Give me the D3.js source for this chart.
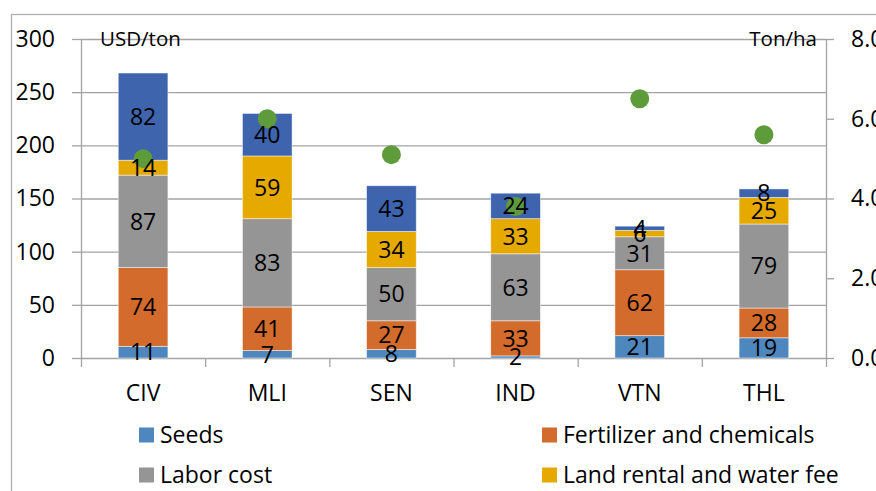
<!DOCTYPE html>
<html>
<head>
<meta charset="utf-8">
<script src="https://cdn.jsdelivr.net/npm/d3@7"></script>
<style>
  html, body { margin:0; padding:0; background:#fff; overflow:hidden; }
  svg { display:block; font-family:"Open Sans", sans-serif; }
</style>
</head>
<body>
<div class="chart-container"></div>
<script>
// data
const countries = ['CIV','MLI','SEN','IND','VTN','THL'];
const seeds = [11,7,8,2,21,19];
const fertilizer = [74,41,27,33,62,28];
const labor = [87,83,50,63,31,79];
const landRental = [14,59,34,33,6,25];
const otherCosts = [82,40,43,24,4,8];
const yieldTonHa = [5.0,6.0,5.1,3.8,6.5,5.6];
const seriesNames = ['Seeds','Fertilizer and chemicals','Labor cost','Land rental and water fee','Other costs'];
const leftTicks = [0,50,100,150,200,250,300];
const rightTicks = [0,2,4,6,8];

const colors = ['#4E86BE','#D26B2B','#959595','#E5A900','#3D64AD'];
const dotColor = '#5E9B3B';
const lineColor = '#A3A3A3';
const fontSize = '23px';

const keys = ['seeds','fertilizer','labor','landRental','otherCosts'];
const table = countries.map((c,i)=>({
    country:c,
    seeds:seeds[i],
    fertilizer:fertilizer[i],
    labor:labor[i],
    landRental:landRental[i],
    otherCosts:otherCosts[i],
    yield:yieldTonHa[i]
}));

const svg_width = 876;
const svg_height = 491;
const plot = {left:81, right:826, top:39, bottom:358};

const svg = d3.select('.chart-container').append('svg')
    .attr('width',svg_width).attr('height',svg_height);

// outer chart border (runs off the picture on the right and bottom)
svg.append('rect')
    .attr('x',11.5).attr('y',14.5).attr('width',1000).attr('height',600)
    .attr('fill','none').attr('stroke','#B0B0B0').attr('stroke-width',1.3);

const xScale = d3.scaleBand().domain(countries)
    .range([plot.left, plot.right]).paddingInner(0.6).paddingOuter(0.3);
const yLeft = d3.scaleLinear([0,300],[plot.bottom, plot.top]);
const yRight = d3.scaleLinear([0,8],[plot.bottom, plot.top]);

//gridlines
svg.append('g').attr('class','grid').selectAll('line')
    .data(leftTicks.filter(d=>d>0)).join('line')
    .attr('x1',plot.left).attr('x2',plot.right)
    .attr('y1',d=>yLeft(d)+0.5).attr('y2',d=>yLeft(d)+0.5)
    .attr('stroke',lineColor).attr('stroke-width',1.3);

//left axis
const leftAxis = svg.append('g').attr('transform',`translate(${plot.left},0)`)
    .call(d3.axisLeft(yLeft).tickValues(leftTicks).tickSize(9).tickSizeOuter(0).tickPadding(17));
//right axis
const rightAxis = svg.append('g').attr('transform',`translate(${plot.right},0)`)
    .call(d3.axisRight(yRight).tickValues(rightTicks).tickFormat(d3.format('.1f'))
        .tickSize(8).tickSizeOuter(0).tickPadding(17));
//bottom axis: labels in band centres, tick marks on band edges
const bottomAxis = svg.append('g').attr('transform',`translate(0,${plot.bottom})`)
    .call(d3.axisBottom(xScale).tickSize(0).tickSizeOuter(0).tickPadding(35));
const edges = d3.range(countries.length+1).map(i=>plot.left + i*xScale.step());
bottomAxis.selectAll('.edge').data(edges).join('line').attr('class','edge')
    .attr('x1',d=>d+0.5).attr('x2',d=>d+0.5).attr('y1',0).attr('y2',9)
    .attr('stroke',lineColor).attr('stroke-width',1.3);

[leftAxis,rightAxis,bottomAxis].forEach(g=>{
    g.selectAll('path.domain').attr('stroke',lineColor).attr('stroke-width',1.3);
    g.selectAll('.tick line').attr('stroke',lineColor).attr('stroke-width',1.3);
    g.selectAll('text').attr('fill','#000').style('font-size',fontSize)
        .style('font-family','"Open Sans", sans-serif');
});
bottomAxis.selectAll('.tick text').attr('dy','0.35em');

//stacked bars
const stacked = d3.stack().keys(keys)(table);
const layers = svg.append('g').attr('class','bars').selectAll('g')
    .data(stacked).join('g').attr('fill',(d,i)=>colors[i]);
layers.selectAll('rect').data(d=>d).join('rect')
    .attr('x',d=>xScale(d.data.country))
    .attr('width',xScale.bandwidth())
    .attr('y',d=>yLeft(d[1]))
    .attr('height',d=>yLeft(d[0])-yLeft(d[1]))
    .attr('stroke','#fff').attr('stroke-opacity',0.6).attr('stroke-width',0.8);

//yield dots
svg.append('g').attr('class','dots').selectAll('circle')
    .data(table).join('circle')
    .attr('cx',d=>xScale(d.country)+xScale.bandwidth()/2)
    .attr('cy',d=>yRight(d.yield))
    .attr('r',9.5)
    .attr('fill',dotColor);

//data labels
const labels = svg.append('g').attr('class','labels');
stacked.forEach(layer=>{
    labels.selectAll(null).data(layer).join('text')
        .attr('x',d=>xScale(d.data.country)+xScale.bandwidth()/2)
        .attr('y',d=>(yLeft(d[0])+yLeft(d[1]))/2)
        .attr('dy','0.36em')
        .attr('text-anchor','middle')
        .style('font-size',fontSize)
        .text(d=>d[1]-d[0]);
});

//units
svg.append('text').attr('x',100).attr('y',plot.top).attr('dy','0.36em')
    .style('font-size','20.5px').text('USD/ton');
svg.append('text').attr('x',817).attr('y',plot.top).attr('dy','0.36em')
    .attr('text-anchor','end').style('font-size','20.5px').text('Ton/ha');

//legend (only the rows inside the picture)
const legendItems = seriesNames.slice(0,4).map((name,i)=>({name, color:colors[i],
    col:i%2, row:Math.floor(i/2)}));
const legend = svg.append('g').attr('class','legend').selectAll('g')
    .data(legendItems).join('g')
    .attr('transform',d=>`translate(${[139,542][d.col]},${435+d.row*40})`);
legend.append('rect').attr('x',0).attr('y',-7.5).attr('width',15).attr('height',15)
    .attr('fill',d=>d.color);
legend.append('text').attr('x',21).attr('y',0).attr('dy','0.36em')
    .style('font-size',fontSize).text(d=>d.name);
</script>
</body>
</html>
